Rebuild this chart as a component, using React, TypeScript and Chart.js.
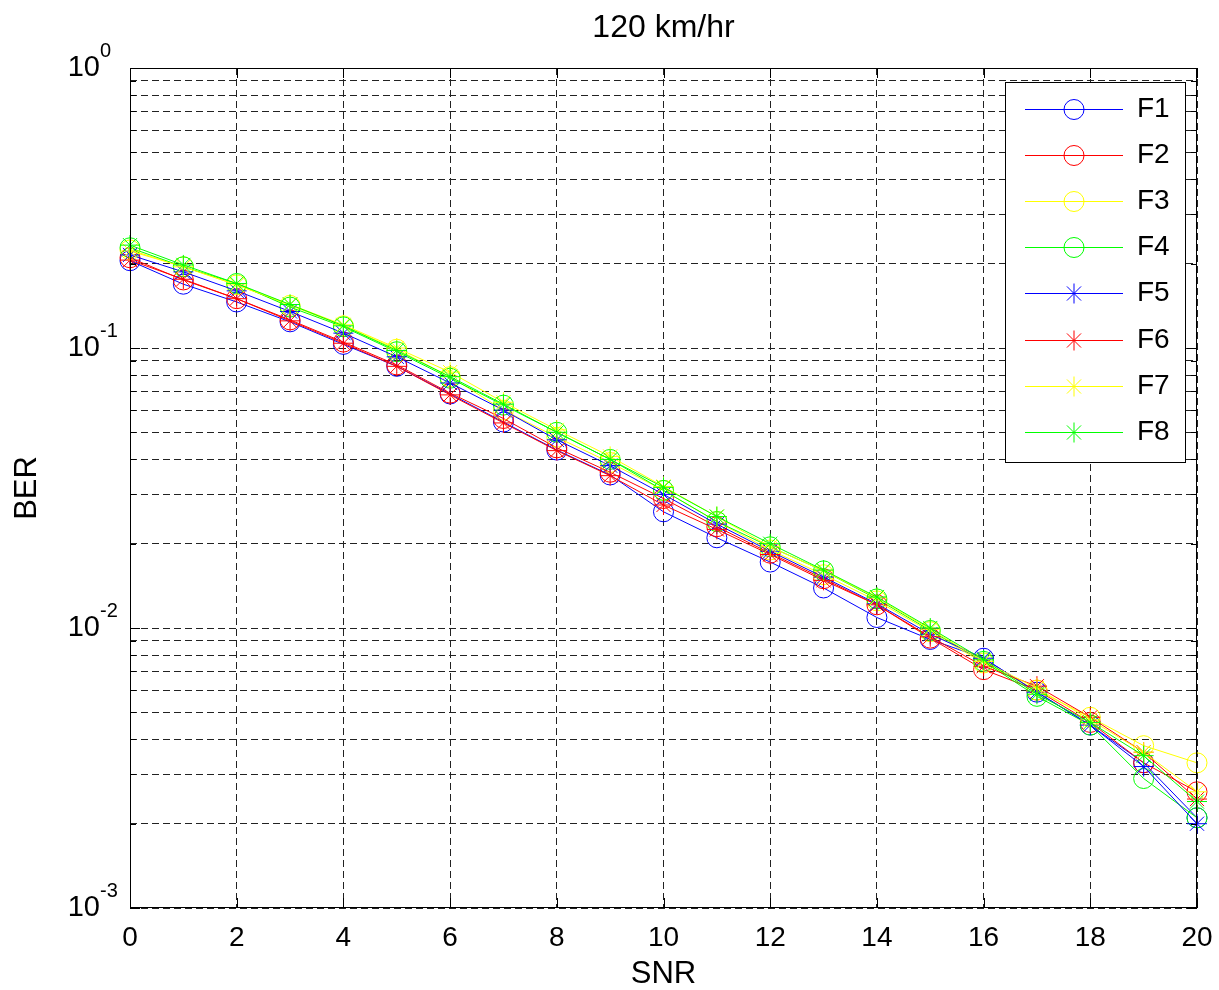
import React, { useEffect, useRef } from 'react';
import { Chart, registerables } from 'chart.js';

Chart.register(...registerables);

const TITLE = '120 km/hr';
const X_LABEL = 'SNR';
const Y_LABEL = 'BER';

const SNR = [0, 1, 2, 3, 4, 5, 6, 7, 8, 9, 10, 11, 12, 13, 14, 15, 16, 17, 18, 19, 20];
const X_TICKS = [0, 2, 4, 6, 8, 10, 12, 14, 16, 18, 20];
const Y_DECADES = [1, 0.1, 0.01, 0.001];
const Y_DECADE_EXP = ['0', '-1', '-2', '-3'];
const Y_MANTISSAS = [1, 2, 3, 4, 5, 6, 7, 8, 9];

const SERIES_NAMES = ['F1', 'F2', 'F3', 'F4', 'F5', 'F6', 'F7', 'F8'];
const SERIES_COLORS = ['#0000ff', '#ff0000', '#ffff00', '#00ff00', '#0000ff', '#ff0000', '#ffff00', '#00ff00'];
const SERIES_MARKERS = ['circle', 'circle', 'circle', 'circle', 'star', 'star', 'star', 'star'];

const F1 = [0.205, 0.169, 0.146, 0.124, 0.103, 0.086, 0.0685, 0.0544, 0.0432, 0.0352, 0.026, 0.021, 0.0172, 0.0139, 0.0109, 0.0091, 0.0078, 0.0059, 0.0045, 0.0033, 0.0021];
const F2 = [0.21, 0.175, 0.15, 0.126, 0.105, 0.087, 0.069, 0.056, 0.044, 0.036, 0.029, 0.023, 0.0185, 0.015, 0.0121, 0.0092, 0.0071, 0.006, 0.0046, 0.0033, 0.0026];
const F3 = [0.224, 0.195, 0.168, 0.142, 0.12, 0.099, 0.079, 0.06, 0.048, 0.039, 0.031, 0.024, 0.019, 0.0155, 0.0125, 0.0097, 0.0075, 0.006, 0.0048, 0.0038, 0.0033];
const F4 = [0.228, 0.195, 0.17, 0.14, 0.119, 0.097, 0.078, 0.0625, 0.05, 0.04, 0.031, 0.024, 0.0195, 0.016, 0.0127, 0.0098, 0.0076, 0.0057, 0.0045, 0.0029, 0.0021];
const F5 = [0.215, 0.187, 0.16, 0.135, 0.113, 0.093, 0.075, 0.06, 0.047, 0.038, 0.03, 0.0235, 0.0188, 0.0152, 0.0122, 0.0095, 0.0078, 0.0059, 0.0045, 0.0032, 0.002];
const F6 = [0.206, 0.176, 0.15, 0.125, 0.104, 0.086, 0.068, 0.054, 0.043, 0.035, 0.0275, 0.0225, 0.0183, 0.0148, 0.0121, 0.0093, 0.0073, 0.0062, 0.0048, 0.0036, 0.00245];
const F7 = [0.222, 0.195, 0.168, 0.143, 0.121, 0.1, 0.082, 0.064, 0.051, 0.041, 0.032, 0.025, 0.0195, 0.016, 0.0128, 0.0099, 0.0076, 0.0061, 0.0047, 0.0036, 0.0026];
const F8 = [0.233, 0.198, 0.17, 0.143, 0.12, 0.098, 0.079, 0.063, 0.05, 0.04, 0.0318, 0.025, 0.02, 0.0161, 0.0129, 0.01, 0.0077, 0.0058, 0.0046, 0.0035, 0.0024];

const SERIES_VALUES = [F1, F2, F3, F4, F5, F6, F7, F8];

const FONT = '"Liberation Sans", Arial, Helvetica, sans-serif';

function drawMarker(ctx: CanvasRenderingContext2D, style: string, x: number, y: number, r: number, color: string) {
  ctx.save();
  ctx.strokeStyle = color;
  ctx.lineWidth = 1;
  ctx.beginPath();
  if (style === 'circle') {
    ctx.arc(x, y, r, 0, Math.PI * 2);
  } else {
    ctx.moveTo(x - r, y); ctx.lineTo(x + r, y);
    ctx.moveTo(x, y - r); ctx.lineTo(x, y + r);
    const d = r * Math.SQRT1_2;
    ctx.moveTo(x - d, y - d); ctx.lineTo(x + d, y + d);
    ctx.moveTo(x - d, y + d); ctx.lineTo(x + d, y - d);
  }
  ctx.stroke();
  ctx.restore();
}

const decorPlugin = {
  id: 'decor',
  afterDatasetsDraw(chart: any) {
    const { ctx, chartArea: a, scales } = chart;
    const xs = scales.x;
    const ys = scales.y;
    ctx.save();
    // title centred over the axes
    ctx.fillStyle = '#000';
    ctx.font = `32px ${FONT}`;
    ctx.textAlign = 'center';
    ctx.textBaseline = 'middle';
    ctx.fillText(TITLE, (a.left + a.right) / 2, 28);

    // axes box
    ctx.strokeStyle = '#000';
    ctx.lineWidth = 1;
    ctx.setLineDash([]);
    ctx.strokeRect(Math.round(a.left) + 0.5, Math.round(a.top) + 0.5, Math.round(a.right - a.left) - 1, Math.round(a.bottom - a.top) - 1);
    // inward ticks
    ctx.beginPath();
    Y_DECADES.forEach((d) => {
      Y_MANTISSAS.forEach((m) => {
        const v = d * m;
        if (v > 1.0001) return;
        const y = Math.round(ys.getPixelForValue(v)) + 0.5;
        const len = m === 1 ? 10 : 6;
        ctx.moveTo(a.left, y); ctx.lineTo(a.left + len, y);
        ctx.moveTo(a.right, y); ctx.lineTo(a.right - len, y);
      });
    });
    X_TICKS.forEach((t) => {
      const x = Math.round(xs.getPixelForValue(t)) + 0.5;
      ctx.moveTo(x, a.bottom); ctx.lineTo(x, a.bottom - 10);
      ctx.moveTo(x, a.top); ctx.lineTo(x, a.top + 10);
    });
    ctx.stroke();

    // y tick labels with superscript exponents
    ctx.fillStyle = '#000';
    Y_DECADES.forEach((d, i) => {
      const y = ys.getPixelForValue(d);
      ctx.font = `29px ${FONT}`;
      ctx.textAlign = 'right';
      ctx.textBaseline = 'middle';
      ctx.fillText('10', a.left - 30, y);
      ctx.font = `20px ${FONT}`;
      ctx.textAlign = 'left';
      ctx.fillText(Y_DECADE_EXP[i], a.left - 30, y - 17);
    });

    // legend
    const lx0 = a.right - 192;
    const ly0 = a.top + 14;
    const lw = 180;
    const lh = 380;
    ctx.fillStyle = '#fff';
    ctx.fillRect(lx0, ly0, lw, lh);
    ctx.strokeStyle = '#000';
    ctx.strokeRect(lx0 + 0.5, ly0 + 0.5, lw, lh);
    SERIES_NAMES.forEach((name, i) => {
      const y = Math.round(ly0 + 27 + i * 46.1) + 0.5;
      ctx.strokeStyle = SERIES_COLORS[i];
      ctx.beginPath();
      ctx.moveTo(lx0 + 20, y);
      ctx.lineTo(lx0 + 118, y);
      ctx.stroke();
      drawMarker(ctx, SERIES_MARKERS[i], lx0 + 69, y, 10, SERIES_COLORS[i]);
      ctx.fillStyle = '#000';
      ctx.font = `28px ${FONT}`;
      ctx.textAlign = 'left';
      ctx.textBaseline = 'middle';
      ctx.fillText(name, lx0 + 132, y);
    });
    ctx.restore();
  },
};

export default function App() {
  const canvasRef = useRef<HTMLCanvasElement | null>(null);

  useEffect(() => {
    if (!canvasRef.current) return;
    const datasets = SERIES_NAMES.map((name, i) => ({
      label: name,
      data: SNR.map((x, j) => ({ x, y: SERIES_VALUES[i][j] })),
      borderColor: SERIES_COLORS[i],
      backgroundColor: 'transparent',
      borderWidth: 1,
      pointStyle: SERIES_MARKERS[i],
      pointRadius: 10,
      pointHoverRadius: 10,
      pointBorderWidth: 1,
      pointBorderColor: SERIES_COLORS[i],
      pointBackgroundColor: 'transparent',
      tension: 0,
      fill: false,
      clip: false,
      order: SERIES_NAMES.length - 1 - i,
    }));

    const yGrid: number[] = [];
    Y_DECADES.forEach((d) => Y_MANTISSAS.forEach((m) => { const v = d * m; if (v <= 1.0001) yGrid.push(v); }));

    const chart = new Chart(canvasRef.current, {
      type: 'line',
      data: { datasets },
      options: {
        animation: false,
        responsive: false,
        events: [],
        layout: { padding: { left: 0, right: 22, top: 68, bottom: 0 } },
        plugins: {
          legend: { display: false },
          tooltip: { enabled: false },
          title: { display: false },
        },
        scales: {
          x: {
            type: 'linear',
            min: 0,
            max: 20,
            afterFit: (s: any) => { s.height = 82; s.paddingLeft = 0; s.paddingRight = 0; },
            afterBuildTicks: (s: any) => { s.ticks = X_TICKS.map((v) => ({ value: v })); },
            ticks: {
              autoSkip: false,
              maxRotation: 0,
              color: '#000',
              padding: 13,
              font: { family: FONT, size: 28 },
            },
            grid: { color: '#222', lineWidth: 1, drawTicks: false },
            border: { display: false, dash: [7, 4] },
            title: {
              display: true,
              text: X_LABEL,
              color: '#000',
              font: { family: FONT, size: 31, lineHeight: 1 },
              padding: { top: 0, bottom: 0 },
            },
          },
          y: {
            type: 'logarithmic',
            min: 0.001,
            max: 1,
            afterFit: (s: any) => { s.width = 130; s.paddingTop = 0; s.paddingBottom = 0; },
            afterBuildTicks: (s: any) => { s.ticks = yGrid.map((v) => ({ value: v })); },
            ticks: { display: false, autoSkip: false },
            grid: { color: '#222', lineWidth: 1, drawTicks: false },
            border: { display: false, dash: [7, 4] },
            title: {
              display: true,
              text: Y_LABEL,
              color: '#000',
              font: { family: FONT, size: 31, lineHeight: 1 },
              padding: { top: 12, bottom: 0 },
            },
          },
        },
      },
      plugins: [decorPlugin],
    } as any);
    return () => chart.destroy();
  }, []);

  return (
    <div style={{ position: 'fixed', left: 0, top: 0, width: 1219, height: 990, background: '#fff' }}>
      <canvas ref={canvasRef} width={1219} height={990} style={{ display: 'block' }} />
    </div>
  );
}
